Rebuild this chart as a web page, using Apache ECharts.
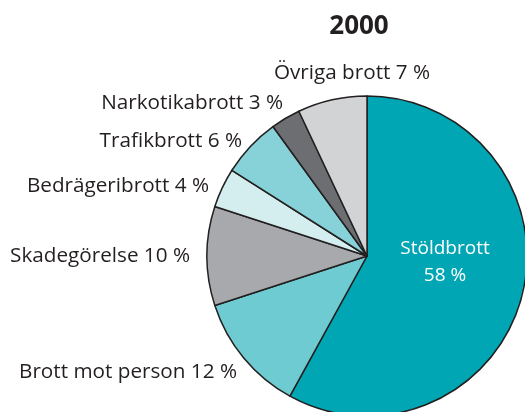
<!DOCTYPE html>
<html><head><meta charset="utf-8">
<script src="https://cdn.jsdelivr.net/npm/echarts@6/dist/echarts.min.js"></script>
<style>html,body{margin:0;padding:0;background:#fff}#c{width:525px;height:412px}</style>
</head><body><div id="c"></div>
<script>
const categories = ['Stöldbrott','Brott mot person','Skadegörelse','Bedrägeribrott','Trafikbrott','Narkotikabrott','Övriga brott'];
const values = [58, 12, 10, 4, 6, 3, 7];
const colors = ['#00a6b3','#6ecbd1','#a7a9ac','#d4eef0','#87d2d8','#6d6e71','#d1d3d4'];
const labelPos = [
  {x:445, y:262, align:'center'},
  {x:237, y:372, align:'right'},
  {x:190, y:256, align:'right'},
  {x:209, y:186, align:'right'},
  {x:242, y:141, align:'right'},
  {x:283, y:103, align:'right'},
  {x:352, y:73, align:'center'}
];
const chart = echarts.init(document.getElementById('c'), null, {renderer:'canvas'});
const font = 'Open Sans';
chart.setOption({
  animation:false,
  title:{text:'2000', left:354, top:9, textAlign:'center',
    textStyle:{fontFamily:font, fontWeight:'bold', fontSize:26, color:'#231f20'}},
  series:[{
    type:'pie', center:[367,256], radius:160, startAngle:90, clockwise:true,
    data: categories.map((c,i)=>({name:c, value:values[i], itemStyle:{color:colors[i]},
      label: i===0 ? {color:'#fff', formatter:'{b}\n{c} %', lineHeight:27, fontSize:19} : {}})),
    itemStyle:{borderColor:'#231f20', borderWidth:1.5},
    label:{show:true, position:'outside', formatter:'{b} {c} %', fontFamily:font, fontSize:20.7, color:'#231f20', overflow:'none'},
    labelLine:{show:false},
    labelLayout:function(p){ const q=labelPos[p.dataIndex]; return {x:q.x, y:q.y, align:q.align, verticalAlign:'middle', hideOverlap:false}; }
  }]
});
</script></body></html>
